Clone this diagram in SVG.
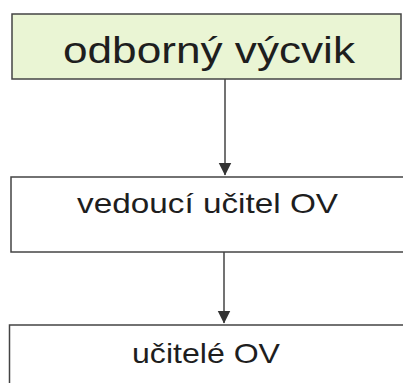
<svg xmlns="http://www.w3.org/2000/svg" width="403" height="383" viewBox="0 0 403 383">
<style>
.box{stroke:#444;stroke-width:1.5}
.lbl{font-family:"Liberation Sans",Arial,sans-serif;fill:#1e1e1e;text-anchor:middle}
.con{stroke:#444;stroke-width:1.5;fill:none}
</style>
<defs>
<marker id="ah" markerUnits="userSpaceOnUse" markerWidth="13" markerHeight="16" refX="12.5" refY="6.5" orient="auto">
<path d="M0,0 L13,6.5 L0,13 Z" fill="#333"/>
</marker>
</defs>
<rect width="403" height="383" fill="#fff"/>
<g id="node-odborny-vycvik">
<rect class="box" x="12" y="14" width="389" height="65" fill="#eaf5d4"/>
<text class="lbl" x="209" y="63" font-size="36" textLength="292" lengthAdjust="spacingAndGlyphs">odborný výcvik</text>
</g>
<g id="node-vedouci-ucitel">
<rect class="box" x="11" y="177" width="400" height="75" fill="#fff"/>
<text class="lbl" x="207.5" y="213" font-size="28" textLength="261" lengthAdjust="spacingAndGlyphs">vedoucí učitel OV</text>
</g>
<g id="node-ucitele">
<rect class="box" x="9.5" y="325" width="400" height="70" fill="#fff"/>
<text class="lbl" x="206" y="363" font-size="28" textLength="148" lengthAdjust="spacingAndGlyphs">učitelé OV</text>
</g>
<g id="connectors">
<line class="con" x1="225" y1="79" x2="225" y2="175" marker-end="url(#ah)"/>
<line class="con" x1="224" y1="252" x2="224" y2="323" marker-end="url(#ah)"/>
</g>
</svg>
